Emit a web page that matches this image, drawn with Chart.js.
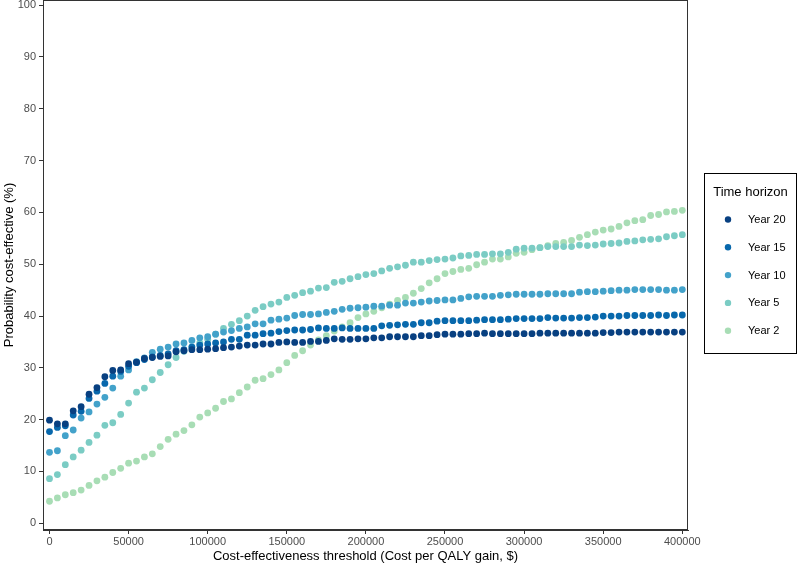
<!DOCTYPE html>
<html>
<head>
<meta charset="utf-8">
<script src="https://cdn.jsdelivr.net/npm/chart.js@4"></script>
<style>
    html, body { margin: 0; padding: 0; background: #fff; }
    #wrap { width: 800px; height: 565px; }
</style>
</head>
<body>
<div id="wrap"><canvas id="ceacChart" width="800" height="565"></canvas></div>
<script>
// Willingness-to-pay thresholds ($ per QALY gained)
const thresholds = [
    0, 5000, 10000, 15000, 20000, 25000, 30000, 35000, 40000, 45000,
    50000, 55000, 60000, 65000, 70000, 75000, 80000, 85000, 90000, 95000,
    100000, 105000, 110000, 115000, 120000, 125000, 130000, 135000, 140000, 145000,
    150000, 155000, 160000, 165000, 170000, 175000, 180000, 185000, 190000, 195000,
    200000, 205000, 210000, 215000, 220000, 225000, 230000, 235000, 240000, 245000,
    250000, 255000, 260000, 265000, 270000, 275000, 280000, 285000, 290000, 295000,
    300000, 305000, 310000, 315000, 320000, 325000, 330000, 335000, 340000, 345000,
    350000, 355000, 360000, 365000, 370000, 375000, 380000, 385000, 390000, 395000,
    400000
];

// Probability cost-effective (%) per time horizon
const year20 = [
    19.9, 19.2, 19.2, 21.7, 22.5, 24.9, 26.2, 28.3, 29.5, 29.6,
    30.8, 31.1, 31.8, 32.0, 32.2, 32.3, 33.1, 33.3, 33.5, 33.5,
    33.6, 33.7, 33.9, 34.0, 34.2, 34.4, 34.4, 34.6, 34.6, 34.9,
    35.0, 34.9, 34.9, 35.1, 35.1, 35.3, 35.6, 35.5, 35.5, 35.6,
    35.6, 35.8, 35.8, 36.0, 36.0, 36.0, 36.0, 36.2, 36.2, 36.4,
    36.5, 36.5, 36.5, 36.6, 36.6, 36.7, 36.6, 36.6, 36.6, 36.6,
    36.6, 36.6, 36.7, 36.7, 36.7, 36.7, 36.7, 36.7, 36.7, 36.7,
    36.8, 36.8, 36.9, 36.9, 36.9, 36.9, 36.9, 36.9, 36.9, 36.9,
    36.9
];
const year15 = [
    17.7, 18.5, 18.8, 20.9, 21.6, 24.1, 25.5, 27.0, 28.4, 29.3,
    30.3, 31.0, 31.6, 32.1, 32.4, 32.7, 33.3, 33.5, 34.0, 34.4,
    34.6, 34.8, 35.0, 35.5, 35.5, 36.3, 36.3, 36.6, 36.7, 37.0,
    37.2, 37.3, 37.3, 37.4, 37.7, 37.6, 37.6, 37.7, 37.6, 37.6,
    37.6, 37.6, 38.1, 38.2, 38.3, 38.4, 38.4, 38.7, 38.7, 39.0,
    39.1, 39.1, 39.1, 39.1, 39.2, 39.3, 39.3, 39.3, 39.4, 39.5,
    39.5, 39.5, 39.5, 39.7, 39.6, 39.6, 39.6, 39.7, 39.7, 39.8,
    40.0, 40.0, 40.0, 40.1, 40.1, 40.1, 40.1, 40.2, 40.1, 40.2,
    40.2
];
const year10 = [
    13.7, 14.0, 16.9, 18.0, 20.3, 21.5, 23.0, 24.3, 26.1, 28.4,
    29.6, 31.2, 31.9, 33.0, 33.6, 34.0, 34.6, 34.8, 35.3, 35.8,
    36.0, 36.5, 36.9, 37.2, 37.6, 37.9, 38.5, 38.5, 39.2, 39.4,
    39.6, 40.1, 40.3, 40.3, 40.4, 40.7, 40.9, 41.3, 41.5, 41.6,
    41.7, 41.9, 41.9, 42.1, 42.1, 42.5, 42.5, 42.7, 42.9, 43.0,
    43.1, 43.1, 43.4, 43.7, 43.8, 43.8, 43.8, 44.0, 44.1, 44.2,
    44.2, 44.2, 44.2, 44.3, 44.3, 44.3, 44.3, 44.6, 44.7, 44.7,
    44.8, 44.9, 45.0, 45.0, 45.1, 45.1, 45.1, 45.1, 45.0, 45.0,
    45.1
];
const year5 = [
    8.6, 9.4, 11.3, 12.8, 14.1, 15.6, 17.0, 18.9, 19.4, 21.0,
    23.2, 25.3, 26.1, 27.7, 29.1, 30.6, 32.0, 33.2, 34.0, 34.8,
    35.5, 36.5, 37.6, 38.4, 39.1, 40.0, 41.1, 41.8, 42.3, 42.7,
    43.6, 44.0, 44.5, 44.8, 45.4, 45.5, 46.5, 46.7, 47.2, 47.6,
    48.0, 48.2, 48.7, 49.2, 49.5, 49.8, 50.4, 50.4, 50.7, 50.9,
    51.0, 51.2, 51.6, 51.7, 51.9, 51.9, 52.0, 52.0, 52.3, 52.9,
    53.1, 53.1, 53.2, 53.4, 53.4, 53.4, 53.4, 53.7, 53.6, 53.7,
    53.9, 54.0, 54.1, 54.4, 54.5, 54.7, 54.8, 54.9, 55.3, 55.5,
    55.7
];
const year2 = [
    4.25, 4.9, 5.5, 5.9, 6.4, 7.3, 8.2, 8.9, 9.8, 10.6,
    11.6, 12.0, 12.8, 13.4, 14.8, 16.2, 17.2, 17.9, 19.0, 20.5,
    21.3, 22.2, 23.5, 24.0, 25.2, 26.3, 27.6, 27.9, 28.7, 29.6,
    31.0, 32.4, 33.3, 34.4, 35.4, 36.2, 37.1, 37.9, 38.7, 39.7,
    40.4, 40.9, 41.6, 42.3, 43.0, 43.6, 44.4, 45.3, 46.4, 47.2,
    48.2, 48.6, 49.0, 49.2, 49.9, 50.4, 51.0, 51.0, 51.4, 52.1,
    52.3, 52.8, 53.2, 53.6, 54.0, 54.2, 54.6, 55.2, 55.7, 56.2,
    56.6, 56.8, 57.3, 58.0, 58.4, 58.6, 59.4, 59.6, 60.1, 60.2,
    60.4
];

const seriesLabels = ['Year 20', 'Year 15', 'Year 10', 'Year 5', 'Year 2'];
const seriesValues = [year20, year15, year10, year5, year2];
const seriesColors = ['#084081', '#0868ac', '#43a2ca', '#7bccc4', '#a8ddb5'];

const xTicks = [0, 50000, 100000, 150000, 200000, 250000, 300000, 350000, 400000];
const yTicks = [0, 10, 20, 30, 40, 50, 60, 70, 80, 90, 100];

const FONT = '"Liberation Sans", Arial, Helvetica, sans-serif';

// full panel border, like ggplot's panel.border
const panelBorder = {
    id: 'panelBorder',
    afterDraw(chart) {
        const { ctx, chartArea: a } = chart;
        ctx.save();
        ctx.strokeStyle = '#333333';
        ctx.lineWidth = 1;
        ctx.strokeRect(Math.round(a.left) + 0.5, Math.round(a.top) + 0.5,
            Math.round(a.right - a.left) - 1, Math.round(a.bottom - a.top) - 1);
        ctx.restore();
    }
};

// boxed legend to the right of the panel
const boxLegend = {
    id: 'boxLegend',
    afterDraw(chart) {
        const { ctx } = chart;
        const box = { x: 704.5, y: 173.5, w: 92, h: 180 };
        ctx.save();
        ctx.strokeStyle = '#000';
        ctx.lineWidth = 1;
        ctx.strokeRect(box.x, box.y, box.w, box.h);

        ctx.fillStyle = '#000';
        ctx.font = '13px ' + FONT;
        ctx.textAlign = 'center';
        ctx.textBaseline = 'middle';
        ctx.fillText('Time horizon', box.x + box.w / 2, 192);

        ctx.font = '11px ' + FONT;
        ctx.textAlign = 'left';
        chart.data.datasets.forEach((ds, i) => {
            const cy = 219.5 + i * 27.8;
            ctx.beginPath();
            ctx.arc(728, cy, 3.2, 0, Math.PI * 2);
            ctx.fillStyle = ds.backgroundColor;
            ctx.fill();
            ctx.fillStyle = '#000';
            ctx.fillText(ds.label, 748, cy + 0.5);
        });
        ctx.restore();
    }
};

const ctx = document.getElementById('ceacChart');

// eslint-disable-next-line no-undef
new Chart(ctx, {
    type: 'scatter',
    data: {
        datasets: seriesLabels.map((label, i) => ({
            label: label,
            data: thresholds.map((t, j) => ({ x: t, y: seriesValues[i][j] })),
            backgroundColor: seriesColors[i],
            borderColor: seriesColors[i],
            pointRadius: 3.4,
            pointBorderWidth: 0,
            pointHoverRadius: 3.4,
            showLine: false
        }))
    },
    options: {
        responsive: false,
        animation: false,
        devicePixelRatio: 1,
        layout: {
            autoPadding: false,
            padding: { top: 0, right: 112, bottom: 0, left: 0 }
        },
        plugins: {
            legend: { display: false },
            tooltip: { enabled: false }
        },
        scales: {
            x: {
                type: 'linear',
                min: -4100,
                max: 403600,
                afterFit: s => {
                    s.height = 35;
                    s.paddingLeft = 0;
                    s.paddingRight = 0;
                },
                afterBuildTicks: s => { s.ticks = xTicks.map(v => ({ value: v })); },
                ticks: {
                    color: '#4d4d4d',
                    font: { size: 11, family: FONT },
                    padding: 1,
                    maxRotation: 0,
                    autoSkip: false,
                    callback: v => String(v)
                },
                grid: { drawOnChartArea: false, tickLength: 4, color: '#333333' },
                border: { display: true, color: '#333333', width: 1 },
                title: {
                    display: true,
                    text: 'Cost-effectiveness threshold (Cost per QALY gain, $)',
                    color: '#000',
                    font: { size: 13, family: FONT },
                    padding: { top: 0, bottom: 1 }
                }
            },
            y: {
                type: 'linear',
                min: -1.3,
                max: 101,
                afterFit: s => {
                    s.width = 43;
                    s.paddingTop = 0;
                    s.paddingBottom = 0;
                },
                afterBuildTicks: s => { s.ticks = yTicks.map(v => ({ value: v })); },
                ticks: {
                    color: '#4d4d4d',
                    font: { size: 11, family: FONT },
                    padding: 3,
                    autoSkip: false,
                    callback: v => String(v)
                },
                grid: { drawOnChartArea: false, tickLength: 4, color: '#333333' },
                border: { display: true, color: '#333333', width: 1 },
                title: {
                    display: true,
                    text: 'Probability cost-effective (%)',
                    color: '#000',
                    font: { size: 13, family: FONT },
                    padding: { top: 2, bottom: 0 }
                }
            }
        }
    },
    plugins: [panelBorder, boxLegend]
});
</script>
</body>
</html>
